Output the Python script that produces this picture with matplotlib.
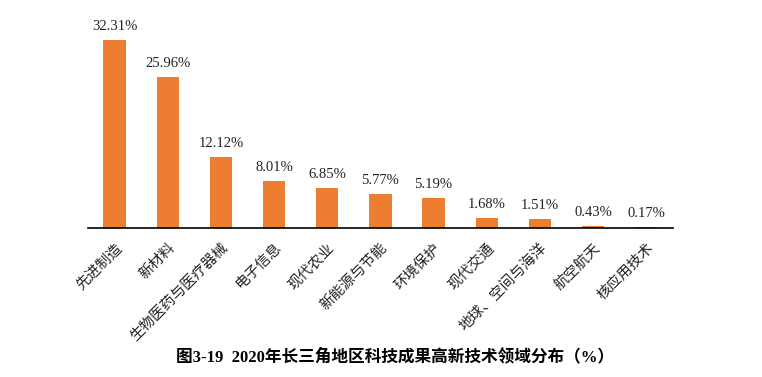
import numpy as np
import matplotlib.pyplot as plt

categories = ["先进制造", "新材料", "生物医药与医疗器械", "电子信息", "现代农业", "新能源与节能",
              "环境保护", "现代交通", "地球、空间与海洋", "航空航天", "核应用技术"]
values = [32.31, 25.96, 12.12, 8.01, 6.85, 5.77, 5.19, 1.68, 1.51, 0.43, 0.17]
title = "图3-19  2020年长三角地区科技成果高新技术领域分布（%）"

fig = plt.figure(figsize=(7.62, 3.77), dpi=100)
ax = fig.add_axes([0.1155, 0.395, 0.7675, 0.552])

x = np.arange(len(categories))
ax.bar(x, values, width=0.42, color="#ED7D31")
for xi, v in zip(x, values):
    ax.text(xi, v + 1.2, f"{v:.2f}%", ha="center", va="bottom", fontsize=10.5,
            family=["Liberation Serif", "Noto Sans CJK SC"], color="#222222")

ax.set_xlim(-0.5, len(categories) - 0.5)
ax.set_ylim(0, 35.7)
ax.set_xticks(x)
ax.set_xticklabels(categories, rotation=45, ha="right", va="top", rotation_mode="anchor",
                   fontsize=10.5, family=["Noto Sans CJK SC", "DejaVu Sans"], color="#222222")
ax.tick_params(axis="x", length=0, pad=9)
ax.set_yticks([])
for s in ["top", "right", "left"]:
    ax.spines[s].set_visible(False)
ax.spines["bottom"].set_linewidth(1.2)

fig.text(0.518, 0.053, title, ha="center", va="center", fontsize=12, fontweight="bold",
         family=["Liberation Serif", "Noto Sans CJK SC"])

fig.savefig("out.png", dpi=100)
